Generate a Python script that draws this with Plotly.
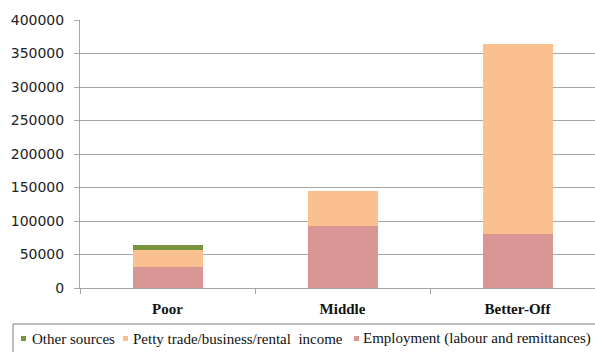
import plotly.graph_objects as go

# Household income by wealth group, stacked by source
groups = ["Poor", "Middle", "Better-Off"]
employment = [31000, 92000, 80000]
petty_trade = [25000, 53000, 284000]
other_sources = [8000, 0, 0]

series_names = ["Employment (labour and remittances)",
                "Petty trade/business/rental  income",
                "Other sources"]
series_colors = ["#D99694", "#FAC090", "#77933C"]

W, H = 595, 352
L, R, T, B = 80, 0, 20, 64
PW, PH = W - L - R, H - T - B
SERIF = "Liberation Serif"


def px_x(px):
    return (px - L) / PW


def px_y(py):
    return (H - B - py) / PH


fig = go.Figure()
for name, vals, col in zip(series_names, [employment, petty_trade, other_sources], series_colors):
    fig.add_trace(go.Bar(
        x=groups, y=vals, name=name, width=0.4,
        marker=dict(color=col, line=dict(width=0)),
        showlegend=False,
    ))

grid = "#a6a6a6"
fig.update_layout(
    width=W, height=H,
    margin=dict(l=L, r=R, t=T, b=B),
    barmode="stack",
    plot_bgcolor="white", paper_bgcolor="white",
    xaxis=dict(
        range=[-0.5, -0.5 + PW / 175.0],
        showline=True, linecolor=grid, linewidth=1,
        ticks="outside", ticklen=5, tickcolor=grid, tickson="boundaries",
        showgrid=False,
        tickfont=dict(family=SERIF, size=15, color="#111", weight="bold"),
        ticklabelstandoff=7,
    ),
    yaxis=dict(
        range=[0, 400000], dtick=50000, tickformat="d",
        showline=True, linecolor=grid, linewidth=1,
        ticks="outside", ticklen=5, tickcolor=grid,
        showgrid=True, gridcolor=grid, gridwidth=1,
        zeroline=False,
        tickfont=dict(family="DejaVu Sans", size=14, color="#222"),
        ticklabelstandoff=7,
    ),
)

# Legend drawn as a boxed strip below the plot
shapes = [dict(type="rect", xref="paper", yref="paper",
               x0=px_x(13), x1=px_x(620), y0=px_y(324), y1=px_y(370),
               line=dict(color="#7f7f7f", width=1), fillcolor="rgba(0,0,0,0)")]
annotations = []
legend_items = [("Other sources", "#77933C", 21, 30),
                ("Petty trade/business/rental  income", "#FAC090", 123, 131),
                ("Employment (labour and remittances)", "#D99694", 354, 361)]
for text, col, mx, tx in legend_items:
    shapes.append(dict(type="rect", xref="paper", yref="paper",
                       x0=px_x(mx), x1=px_x(mx + 5), y0=px_y(336), y1=px_y(341),
                       line=dict(width=0), fillcolor=col))
    annotations.append(dict(text=text, xref="paper", yref="paper",
                            x=px_x(tx), y=px_y(338.5), xanchor="left", yanchor="middle",
                            showarrow=False,
                            font=dict(family=SERIF, size=15, color="#111")))
fig.update_layout(shapes=shapes, annotations=annotations)

fig.write_html("out.html")
